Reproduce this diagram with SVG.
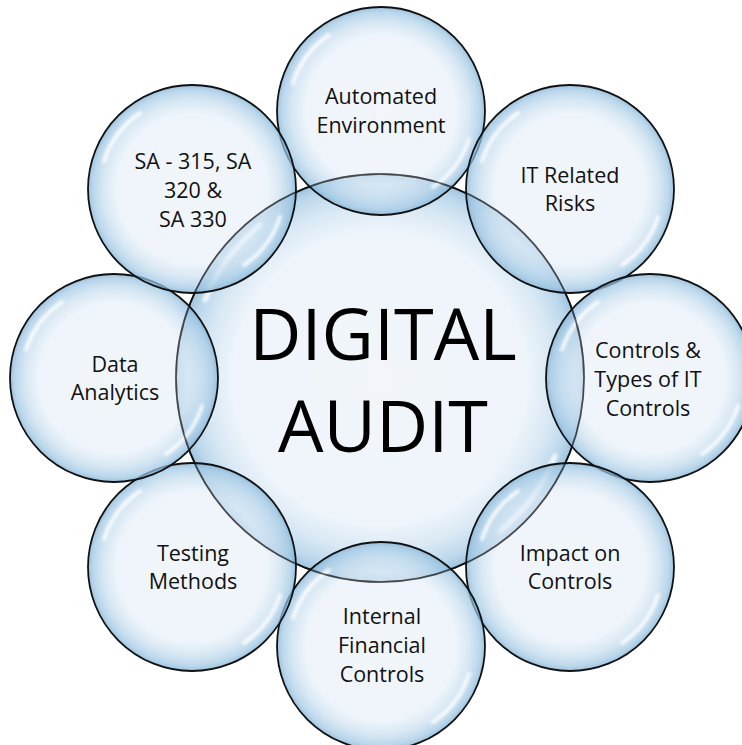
<svg xmlns="http://www.w3.org/2000/svg" xmlns:xlink="http://www.w3.org/1999/xlink" width="742" height="745" viewBox="0 0 742 745">
<defs>
<radialGradient id="bub" cx="50%" cy="50%" r="50%">
<stop offset="0" stop-color="#e9f0f8" stop-opacity="0.62"/>
<stop offset="0.72" stop-color="#e4eef8" stop-opacity="0.62"/>
<stop offset="0.85" stop-color="#c2dbee" stop-opacity="0.64"/>
<stop offset="0.95" stop-color="#9ec6e3" stop-opacity="0.7"/>
<stop offset="1" stop-color="#82b2d6" stop-opacity="0.78"/>
</radialGradient>
<filter id="blur" x="-20%" y="-20%" width="140%" height="140%"><feGaussianBlur stdDeviation="1.6"/></filter>
<g id="bubble">
<circle r="104" fill="url(#bub)" stroke="#111" stroke-width="1.8"/>
<path d="M -88 -28 A 92 92 0 0 1 -52 -76" fill="none" stroke="#fff" stroke-width="4" stroke-linecap="round" opacity="0.85" filter="url(#blur)"/>
<path d="M 88 28 A 92 92 0 0 1 52 76" fill="none" stroke="#fff" stroke-width="4" stroke-linecap="round" opacity="0.85" filter="url(#blur)"/>
</g>
</defs>
<style>
.lbl{font-family:"Open Sans","Noto Sans","DejaVu Sans",sans-serif;font-size:21.5px;fill:#111;text-anchor:middle}
.big{font-family:"Open Sans","Noto Sans","DejaVu Sans",sans-serif;font-size:72px;fill:#000;text-anchor:middle}
</style>
<rect width="742" height="745" fill="#fff"/>
<g id="connectors"/>
<g id="center">
<circle cx="380" cy="378" r="204" fill="url(#bub)" stroke="#111" stroke-width="1.8"/>
<path d="M 205 300 A 190 190 0 0 1 260 225" fill="none" stroke="#fff" stroke-width="5" stroke-linecap="round" opacity="0.8" filter="url(#blur)"/>
<path d="M 555 456 A 190 190 0 0 1 500 531" fill="none" stroke="#fff" stroke-width="5" stroke-linecap="round" opacity="0.8" filter="url(#blur)"/>
<text class="big" x="383" y="360">DIGITAL</text>
<text class="big" x="383" y="452">AUDIT</text>
</g>
<g id="n-automated">
<use xlink:href="#bubble" x="381" y="111"/>
<text class="lbl" x="381" y="104">Automated</text>
<text class="lbl" x="381" y="133">Environment</text>
</g>
<g id="n-itrisks">
<use xlink:href="#bubble" x="570" y="189"/>
<text class="lbl" x="570" y="183">IT Related</text>
<text class="lbl" x="570" y="211">Risks</text>
</g>
<g id="n-controls">
<use xlink:href="#bubble" x="650" y="378"/>
<text class="lbl" x="648" y="358">Controls &amp;</text>
<text class="lbl" x="648" y="387">Types of IT</text>
<text class="lbl" x="648" y="416">Controls</text>
</g>
<g id="n-impact">
<use xlink:href="#bubble" x="570" y="567"/>
<text class="lbl" x="570" y="561">Impact on</text>
<text class="lbl" x="570" y="589">Controls</text>
</g>
<g id="n-ifc">
<use xlink:href="#bubble" x="381" y="646"/>
<text class="lbl" x="382" y="624">Internal</text>
<text class="lbl" x="382" y="653">Financial</text>
<text class="lbl" x="382" y="682">Controls</text>
</g>
<g id="n-testing">
<use xlink:href="#bubble" x="192" y="567"/>
<text class="lbl" x="193" y="561">Testing</text>
<text class="lbl" x="193" y="589">Methods</text>
</g>
<g id="n-data">
<use xlink:href="#bubble" x="114" y="378"/>
<text class="lbl" x="115" y="372">Data</text>
<text class="lbl" x="115" y="400">Analytics</text>
</g>
<g id="n-sa">
<use xlink:href="#bubble" x="192" y="189"/>
<text class="lbl" x="193" y="169">SA - 315, SA</text>
<text class="lbl" x="193" y="198">320 &amp;</text>
<text class="lbl" x="193" y="227">SA 330</text>
</g>
<g id="center-outline">
<circle cx="380" cy="378" r="204" fill="none" stroke="#111" stroke-width="1.6" opacity="0.6"/>
</g>
</svg>
